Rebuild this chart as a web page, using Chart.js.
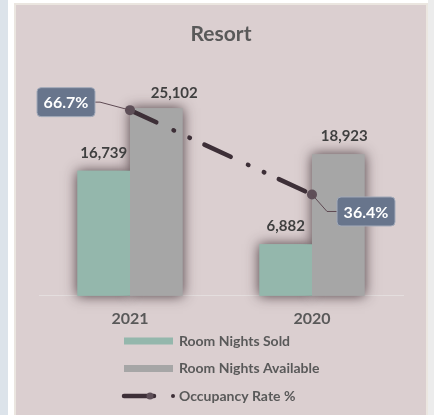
<!DOCTYPE html>
<html>
<head>
<meta charset="utf-8">
<title>Resort</title>
<script src="https://cdn.jsdelivr.net/npm/chart.js@4.4.1/dist/chart.umd.min.js"></script>
<style>
  html, body { margin: 0; padding: 0; background: #ffffff; }
  body { width: 434px; height: 415px; position: relative; overflow: hidden; }
  .strip { position: absolute; left: 0; top: 0; width: 8px; height: 415px; background: #dce3ea; }
  .panel { position: absolute; left: 14px; top: 3px; width: 410px; height: 420px; background: #dbcfd0; border: 2px solid #ebe6e0; }
  .edge { position: absolute; left: 428px; top: 0; width: 6px; height: 415px; background: #ececec; }
  #wrap { position: absolute; left: 0; top: 0; width: 434px; height: 415px; }
</style>
</head>
<body>
<div class="strip"></div>
<div class="panel"></div>
<div class="edge"></div>
<div id="wrap"><canvas id="resortChart"></canvas></div>
<script>
  // chart values
  const categories = ["2021", "2020"];
  const roomNightsSold = [16739, 6882];
  const roomNightsAvailable = [25102, 18923];
  const occupancyRate = [66.7, 36.4];
  const seriesNames = ["Room Nights Sold", "Room Nights Available", "Occupancy Rate %"];

  const textGray = "#595959";
  const labelDark = "#404040";
  const fontFamily = "Lato, 'Open Sans', sans-serif";

  // draws bars once more under themselves with a blurred shadow
  const barShadow = {
    id: "barShadow",
    beforeDatasetsDraw(chart) {
      const ctx = chart.ctx;
      chart.data.datasets.forEach((ds, i) => {
        const meta = chart.getDatasetMeta(i);
        if (meta.type !== "bar" || !chart.isDatasetVisible(i)) return;
        ctx.save();
        ctx.shadowColor = "rgba(55, 38, 44, 0.85)";
        ctx.shadowBlur = 12;
        meta.data.forEach((bar) => bar.draw(ctx));
        ctx.restore();
      });
    },
  };

  // value labels above the bars and boxed labels for the rate line
  const valueLabels = {
    id: "valueLabels",
    afterDatasetsDraw(chart, args, opts) {
      const ctx = chart.ctx;
      ctx.save();
      chart.data.datasets.forEach((ds, i) => {
        const meta = chart.getDatasetMeta(i);
        if (meta.type === "bar") {
          ctx.font = "bold 15px " + fontFamily;
          ctx.fillStyle = labelDark;
          ctx.textAlign = "center";
          ctx.textBaseline = "middle";
          meta.data.forEach((bar, j) => {
            const n = opts.nudge[i + "-" + j] || [0, 0];
            ctx.fillText(ds.data[j].toLocaleString("en-US"), bar.x + n[0], bar.y - 18 + n[1]);
          });
        } else {
          meta.data.forEach((pt, j) => {
            const b = opts.boxes[j];
            const cx = pt.x + b.dx;
            const cy = pt.y + b.dy;
            const w = 58, h = 29;
            const edgeX = b.dx < 0 ? cx + w / 2 : cx - w / 2;
            // leader line
            ctx.strokeStyle = "#5e4a53";
            ctx.lineWidth = 1;
            ctx.beginPath();
            ctx.moveTo(pt.x, pt.y);
            ctx.lineTo(edgeX + (b.dx < 0 ? 5 : -10), cy);
            ctx.lineTo(edgeX, cy);
            ctx.stroke();
            // box
            ctx.fillStyle = "#68758c";
            ctx.strokeStyle = "#a3abba";
            ctx.beginPath();
            ctx.roundRect(cx - w / 2, cy - h / 2, w, h, 4);
            ctx.fill();
            ctx.stroke();
            ctx.fillStyle = "#ffffff";
            ctx.font = "bold 16px " + fontFamily;
            ctx.textAlign = "center";
            ctx.textBaseline = "middle";
            ctx.fillText(ds.data[j].toFixed(1) + "%", cx, cy + 1);
          });
        }
      });
      ctx.restore();
    },
  };

  // stacked legend under the axis labels
  const stackedLegend = {
    id: "stackedLegend",
    afterDraw(chart, args, opts) {
      const ctx = chart.ctx;
      ctx.save();
      chart.data.datasets.forEach((ds, i) => {
        const y = opts.top + i * opts.rowGap;
        const x = opts.left;
        if (ds.type === "line") {
          ctx.strokeStyle = ds.borderColor;
          ctx.lineWidth = 4.5;
          ctx.lineCap = "round";
          ctx.beginPath();
          ctx.moveTo(x, y);
          ctx.lineTo(x + 30, y);
          ctx.stroke();
          ctx.fillStyle = ds.pointBackgroundColor;
          ctx.beginPath();
          ctx.arc(x + 26, y, 3.5, 0, Math.PI * 2);
          ctx.fill();
          ctx.fillStyle = ds.borderColor;
          ctx.beginPath();
          ctx.arc(x + 49, y, 2, 0, Math.PI * 2);
          ctx.fill();
        } else {
          ctx.fillStyle = ds.backgroundColor;
          ctx.fillRect(x, y - 3.5, 49, 7);
        }
        ctx.fillStyle = textGray;
        ctx.font = "bold 14px " + fontFamily;
        ctx.textAlign = "left";
        ctx.textBaseline = "middle";
        ctx.fillText(ds.label, x + 55, y);
      });
      ctx.restore();
    },
  };

  new Chart(document.getElementById("resortChart"), {
    data: {
      labels: categories,
      datasets: [
        {
          type: "bar",
          label: seriesNames[0],
          data: roomNightsSold,
          yAxisID: "y",
          order: 1,
          backgroundColor: "#94b7ac",
          categoryPercentage: 0.577,
          barPercentage: 1,
        },
        {
          type: "bar",
          label: seriesNames[1],
          data: roomNightsAvailable,
          yAxisID: "y",
          order: 1,
          backgroundColor: "#a6a6a6",
          categoryPercentage: 0.577,
          barPercentage: 1,
        },
        {
          type: "line",
          label: seriesNames[2],
          data: occupancyRate,
          yAxisID: "yRate",
          order: 0,
          borderColor: "#3d2f37",
          borderWidth: 4.5,
          borderCapStyle: "round",
          borderDash: [29, 19, 0.5, 17, 0.5, 16],
          pointRadius: 5,
          pointBackgroundColor: "#5e4f58",
          pointBorderWidth: 0,
          tension: 0,
        },
      ],
    },
    options: {
      responsive: true,
      maintainAspectRatio: false,
      animation: false,
      layout: { padding: { left: 39, right: 31, top: 0, bottom: 74 } },
      scales: {
        x: {
          grid: { display: false, drawTicks: false },
          border: { display: true, color: "#e4dede", width: 1 },
          ticks: { color: textGray, font: { family: fontFamily, size: 16, weight: "bold" }, padding: 13 },
        },
        y: { display: false, min: 0, max: 31650 },
        yRate: { display: false, min: 0, max: 85 },
      },
      plugins: {
        legend: { display: false },
        tooltip: { enabled: false },
        title: {
          display: true,
          text: "Resort",
          color: textGray,
          font: { family: fontFamily, size: 21, weight: "bold" },
          padding: { top: 22, bottom: 12 },
        },
        valueLabels: {
          nudge: { "1-0": [18, 3], "1-1": [6, 0] },
          boxes: [
            { dx: -64, dy: -8 },
            { dx: 54, dy: 17 },
          ],
        },
        stackedLegend: { left: 124, top: 341, rowGap: 27.5 },
      },
    },
    plugins: [barShadow, valueLabels, stackedLegend],
  });
</script>
</body>
</html>
